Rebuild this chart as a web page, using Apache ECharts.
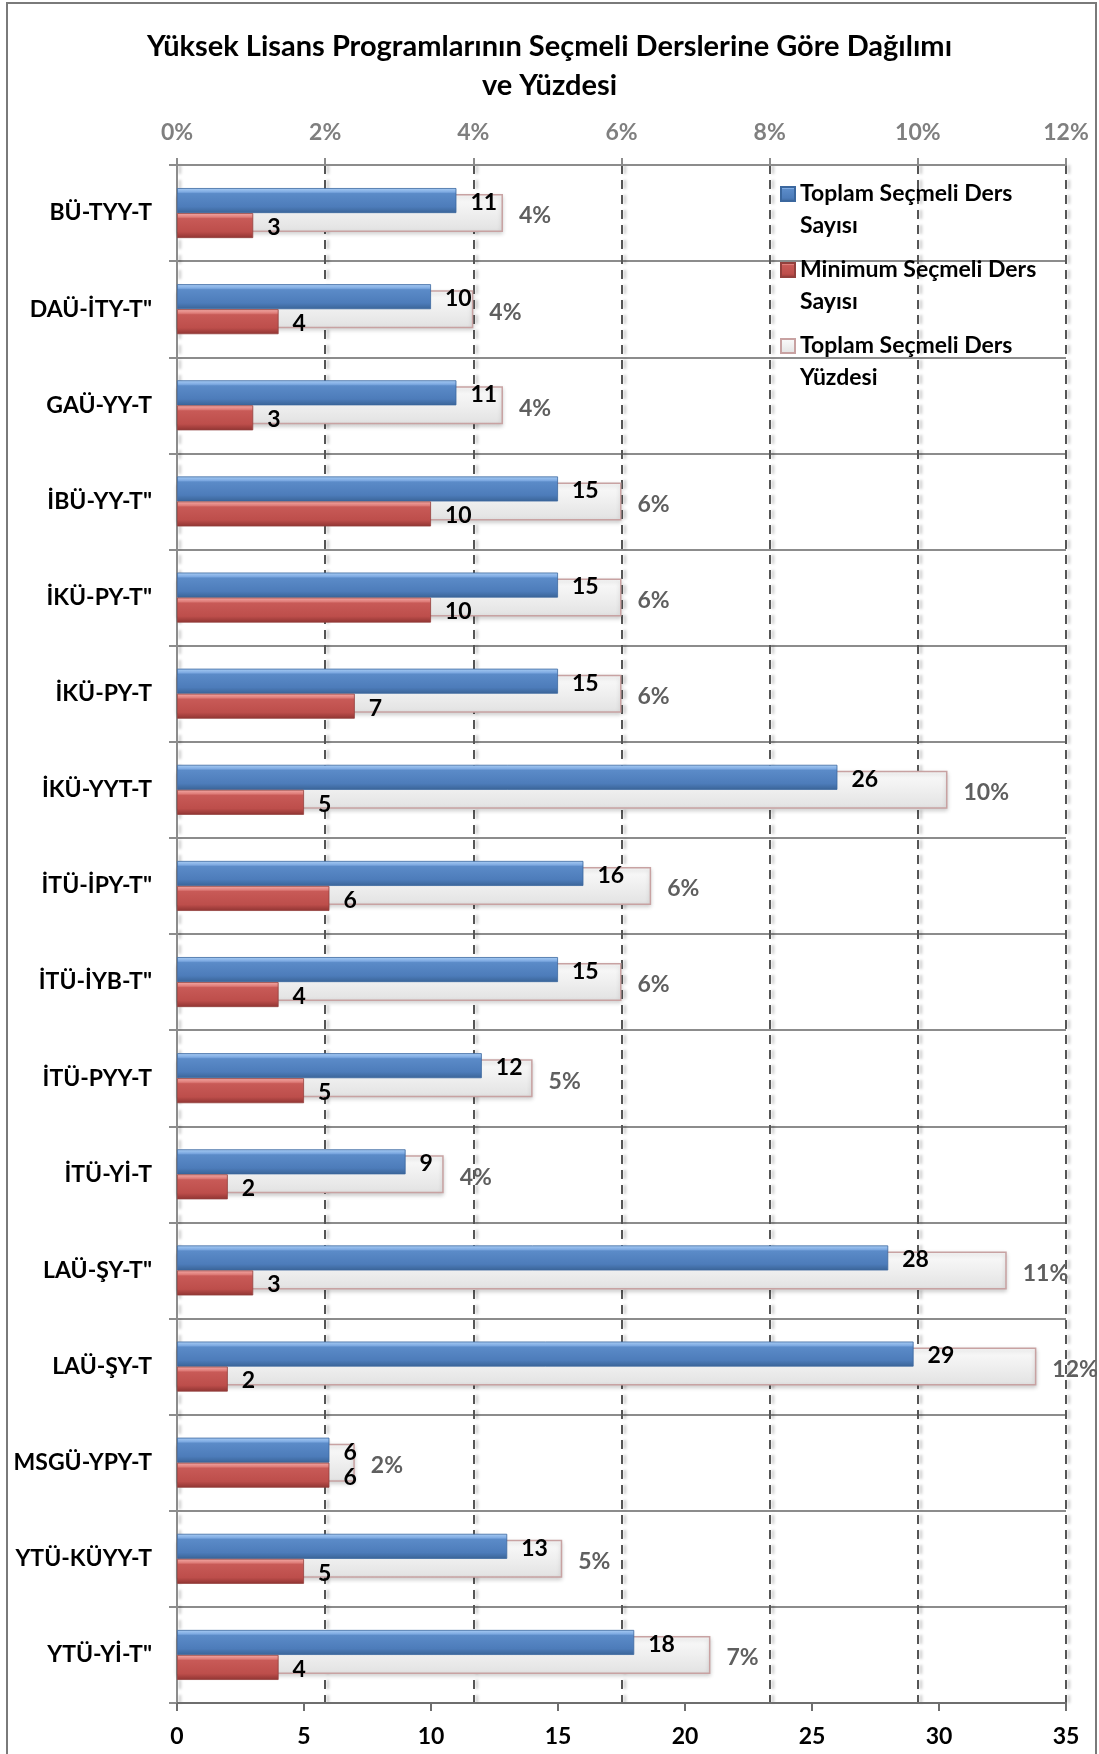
<!DOCTYPE html>
<html>
<head>
<meta charset="utf-8">
<script src="https://cdn.jsdelivr.net/npm/echarts@6/dist/echarts.min.js"></script>
<style>
  html, body { margin: 0; padding: 0; background: #fff; }
  #chart { width: 1099px; height: 1754px; }
</style>
</head>
<body>
<div id="chart"></div>
<script>
// kategoriler (yukaridan asagiya)
const categories = [
  'BÜ-TYY-T', 'DAÜ-İTY-T"', 'GAÜ-YY-T', 'İBÜ-YY-T"', 'İKÜ-PY-T"', 'İKÜ-PY-T',
  'İKÜ-YYT-T', 'İTÜ-İPY-T"', 'İTÜ-İYB-T"', 'İTÜ-PYY-T', 'İTÜ-Yİ-T', 'LAÜ-ŞY-T"',
  'LAÜ-ŞY-T', 'MSGÜ-YPY-T', 'YTÜ-KÜYY-T', 'YTÜ-Yİ-T"'
];
const totalElective = [11, 10, 11, 15, 15, 15, 26, 16, 15, 12, 9, 28, 29, 6, 13, 18];
const minElective = [3, 4, 3, 10, 10, 7, 5, 6, 4, 5, 2, 3, 2, 6, 5, 4];
// yuzde (%), cubuk uclarindan okundu
const electivePercent = [4.4, 4.0, 4.4, 6.0, 6.0, 6.0, 10.4, 6.4, 6.0, 4.8, 3.6, 11.2, 11.6, 2.4, 5.2, 7.2];
const countTicks = { min: 0, max: 35, interval: 5 };
const percentTicks = { min: 0, max: 12, interval: 2 };

const FONT = 'Lato';
const chart = echarts.init(document.getElementById('chart'));

const grad = (stops) => new echarts.graphic.LinearGradient(0, 0, 0, 1,
  stops.map(([offset, color]) => ({ offset, color })));

const option = {
  backgroundColor: '#fff',
  animation: false,
  title: {
    text: 'Yüksek Lisans Programlarının Seçmeli Derslerine Göre Dağılımı\nve Yüzdesi',
    left: 'center',
    top: 22,
    textStyle: { fontFamily: FONT, fontSize: 29, fontWeight: 'bold', color: '#000', lineHeight: 39 }
  },
  graphic: [{
    type: 'rect',
    shape: { x: 7, y: 3, width: 1089, height: 1780 },
    style: { fill: 'none', stroke: '#7a7a7a', lineWidth: 2 },
    silent: true
  }],
  legend: {
    orient: 'vertical',
    left: 780,
    top: 146,
    padding: 0,
    itemGap: -20,
    itemWidth: 14,
    itemHeight: 14,
    icon: 'rect',
    data: ['Toplam Seçmeli Ders Sayısı', 'Minimum Seçmeli Ders Sayısı', 'Toplam Seçmeli Ders Yüzdesi'],
    // ilk satir ikonla ayni hizada olsun diye basa bos satir
    formatter: (name) => '\n' + name.replace(/ (\S+)$/, '\n$1'),
    textStyle: {
      fontFamily: FONT, fontSize: 23, fontWeight: 'bold', color: '#000',
      lineHeight: 32
    }
  },
  grid: { left: 177, right: 33, top: 165, bottom: 51 },
  xAxis: [{
    type: 'value',
    position: 'bottom',
    min: countTicks.min, max: countTicks.max, interval: countTicks.interval,
    axisLine: { show: true, lineStyle: { color: '#6e6e6e', width: 2 } },
    axisTick: { show: true, length: 8, lineStyle: { color: '#6e6e6e', width: 2 } },
    axisLabel: { fontFamily: FONT, fontSize: 23, fontWeight: 'bold', color: '#000', margin: 22 },
    splitLine: { show: false }
  }, {
    type: 'value',
    position: 'top',
    min: percentTicks.min, max: percentTicks.max, interval: percentTicks.interval,
    axisLine: { show: true, lineStyle: { color: '#8c8c8c', width: 2 } },
    axisTick: { show: true, length: 7, lineStyle: { color: '#8c8c8c', width: 2 } },
    axisLabel: { fontFamily: FONT, fontSize: 23, fontWeight: 'bold', color: '#7f7f7f', margin: 21, formatter: '{value}%' },
    splitLine: {
      show: true,
      lineStyle: {
        color: '#555', width: 2, type: [9, 6],
        shadowColor: 'rgba(0,0,0,0.25)', shadowBlur: 3, shadowOffsetX: 3
      }
    }
  }],
  yAxis: [{
    type: 'category',
    data: categories,
    inverse: true,
    axisLine: { show: true, lineStyle: { color: '#8c8c8c', width: 2 } },
    axisTick: { show: true, length: 8, lineStyle: { color: '#8c8c8c', width: 2 } },
    axisLabel: { fontFamily: FONT, fontSize: 23, fontWeight: 'bold', color: '#000', margin: 25 },
    splitLine: { show: true, lineStyle: { color: '#8c8c8c', width: 2 } }
  }, {
    type: 'category',
    data: categories,
    inverse: true,
    show: false
  }],
  series: [{
    name: 'Toplam Seçmeli Ders Yüzdesi',
    type: 'bar',
    xAxisIndex: 1,
    yAxisIndex: 1,
    z: 1,
    data: electivePercent,
    barWidth: 38,
    itemStyle: {
      color: grad([[0, '#fbfbfb'], [0.5, '#efefef'], [1, '#e2e2e2']]),
      borderColor: '#c8a2a2',
      borderWidth: 1.5,
      shadowColor: 'rgba(0,0,0,0.18)', shadowBlur: 4, shadowOffsetY: 2
    },
    label: {
      show: true, position: 'right', distance: 16, offset: [0, 3],
      formatter: (p) => Math.round(p.value) + '%',
      fontFamily: FONT, fontSize: 23, fontWeight: 'bold', color: '#5f5f5f'
    }
  }, {
    name: 'Toplam Seçmeli Ders Sayısı',
    type: 'bar',
    xAxisIndex: 0,
    yAxisIndex: 0,
    z: 3,
    data: totalElective,
    barWidth: 25,
    barGap: '0%',
    itemStyle: {
      color: grad([[0, '#a9cdf4'], [0.16, '#7eaae2'], [0.22, '#5b8bc8'], [0.75, '#4d7cba'], [1, '#3a6497']]),
      borderColor: '#3b679e',
      borderWidth: 0.8
    },
    label: {
      show: true, position: 'right', distance: 14, offset: [0, 2],
      fontFamily: FONT, fontSize: 23, fontWeight: 'bold', color: '#000'
    }
  }, {
    name: 'Minimum Seçmeli Ders Sayısı',
    type: 'bar',
    xAxisIndex: 0,
    yAxisIndex: 0,
    z: 3,
    data: minElective,
    barWidth: 25,
    barGap: '0%',
    itemStyle: {
      color: grad([[0, '#f3aaa6'], [0.16, '#df7d79'], [0.22, '#c85a57'], [0.75, '#bd4e4b'], [1, '#8f3432']]),
      borderColor: '#93403d',
      borderWidth: 0.8
    },
    label: {
      show: true, position: 'right', distance: 14, offset: [0, 2],
      fontFamily: FONT, fontSize: 23, fontWeight: 'bold', color: '#000'
    }
  }]
};

chart.setOption(option);
</script>
</body>
</html>
